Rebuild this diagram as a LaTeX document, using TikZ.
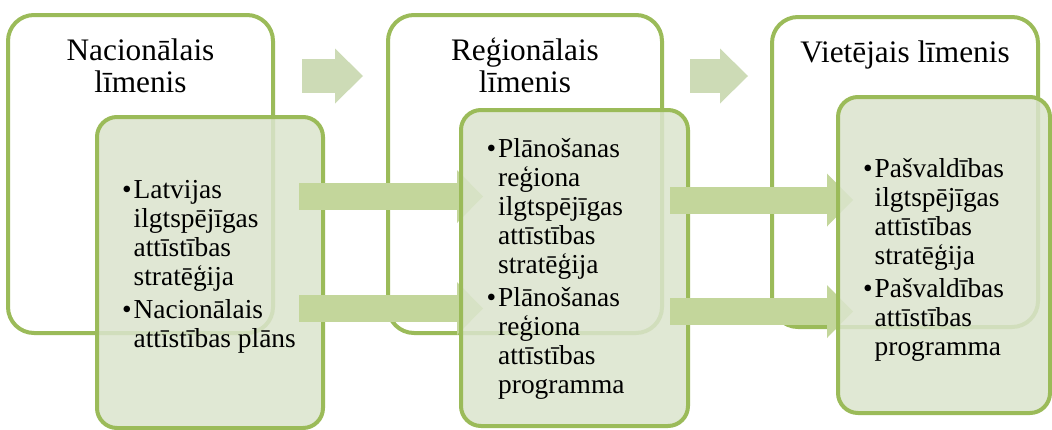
\documentclass[tikz,border=0pt]{standalone}
\usepackage{fontspec}
\setmainfont{Liberation Serif}
\usetikzlibrary{arrows.meta,calc}

\definecolor{lvlgreen}{HTML}{9BBB59}
\definecolor{docfill}{RGB}{219,228,205}
\definecolor{flowgreen}{HTML}{C3D69B}
\definecolor{stepgreen}{HTML}{CDDBB6}

\newcommand{\bul}{\makebox[11.5pt][l]{\textbullet}}
\newcommand{\ind}{\hspace*{11.5pt}}

\begin{document}
\begin{tikzpicture}[x=1pt, y=-1pt]
\tikzset{lvl/.style={rectangle, draw=lvlgreen, line width=4pt, rounded corners=26pt, fill=white, inner sep=0pt, outer sep=0pt},
doc/.style={rectangle, draw=lvlgreen, line width=4pt, rounded corners=20pt, fill=docfill, fill opacity=0.86, inner sep=0pt, outer sep=0pt},
title/.style={align=center, inner sep=0pt, font=\fontsize{31.3}{32}\selectfont},
items/.style={align=left, inner sep=0pt, font=\fontsize{27.4}{29}\selectfont},
f/.style={draw=flowgreen, line width=27pt, -{Triangle[width=53pt, length=26pt, line width=0pt]}},
g/.style={draw=stepgreen, line width=34pt, -{Triangle[width=55pt, length=28pt, line width=0pt]}}};

\useasboundingbox (0,0) rectangle (1052,429);

% levels
\foreach \n/\x/\y/\w/\h in {o1/140.5/174/265/318, o2/525/174/274/318, o3/905/172/266/310} {
	\node[lvl, minimum width=\w pt, minimum height=\h pt] (\n) at (\x,\y) {};
}

% base = last line
\node[title, anchor=base] (t1) at ($(o1.north)+(0,77)$) {Nacionālais\\līmenis};
\node[title, anchor=base] (t2) at ($(o2.north)+(0,77)$) {Reģionālais\\līmenis};
\node[title, anchor=base] (t3) at ($(o3.north)+(0,45)$) {Vietējais līmenis};

\coordinate (g1s) at (302,76);
\coordinate (g1e) at (363,76);
\coordinate (g2s) at (690,76);
\coordinate (g2e) at (748,76);
\draw[g] (g1s) -- (g1e);
\draw[g] (g2s) -- (g2e);

% documents
\node[doc, minimum width=226pt, minimum height=311pt] (d1) at (210,272.5) {};

\coordinate (a1s) at (299,196.5);
\coordinate (a1e) at (483,196.5);
\coordinate (a2s) at (299,308.5);
\coordinate (a2e) at (483,308.5);
\draw[f] (a1s) -- (a1e);
\draw[f] (a2s) -- (a2e);

\node[doc, minimum width=227pt, minimum height=316pt] (d2) at (574.5,268) {};

\coordinate (b1s) at (670,200);
\coordinate (b1e) at (853,200);
\coordinate (b2s) at (670,311.5);
\coordinate (b2e) at (853,311.5);
\draw[f] (b1s) -- (b1e);
\draw[f] (b2s) -- (b2e);

\node[doc, minimum width=212pt, minimum height=316pt] (d3) at (944,255) {};

\node[items, anchor=base west] (l1) at (122,347) {\bul Latvijas\\ \ind ilgtspējīgas\\ \ind attīstības\\ \ind stratēģija\\[4pt] \bul Nacionālais\\ \ind attīstības plāns};
\node[items, anchor=base west] (l2) at (486.5,393) {\bul Plānošanas\\ \ind reģiona\\ \ind ilgtspējīgas\\ \ind attīstības\\ \ind stratēģija\\[4pt] \bul Plānošanas\\ \ind reģiona\\ \ind attīstības\\ \ind programma};
\node[items, anchor=base west] (l3) at (863,355) {\bul Pašvaldības\\ \ind ilgtspējīgas\\ \ind attīstības\\ \ind stratēģija\\[4pt] \bul Pašvaldības\\ \ind attīstības\\ \ind programma};

\end{tikzpicture}
\end{document}
